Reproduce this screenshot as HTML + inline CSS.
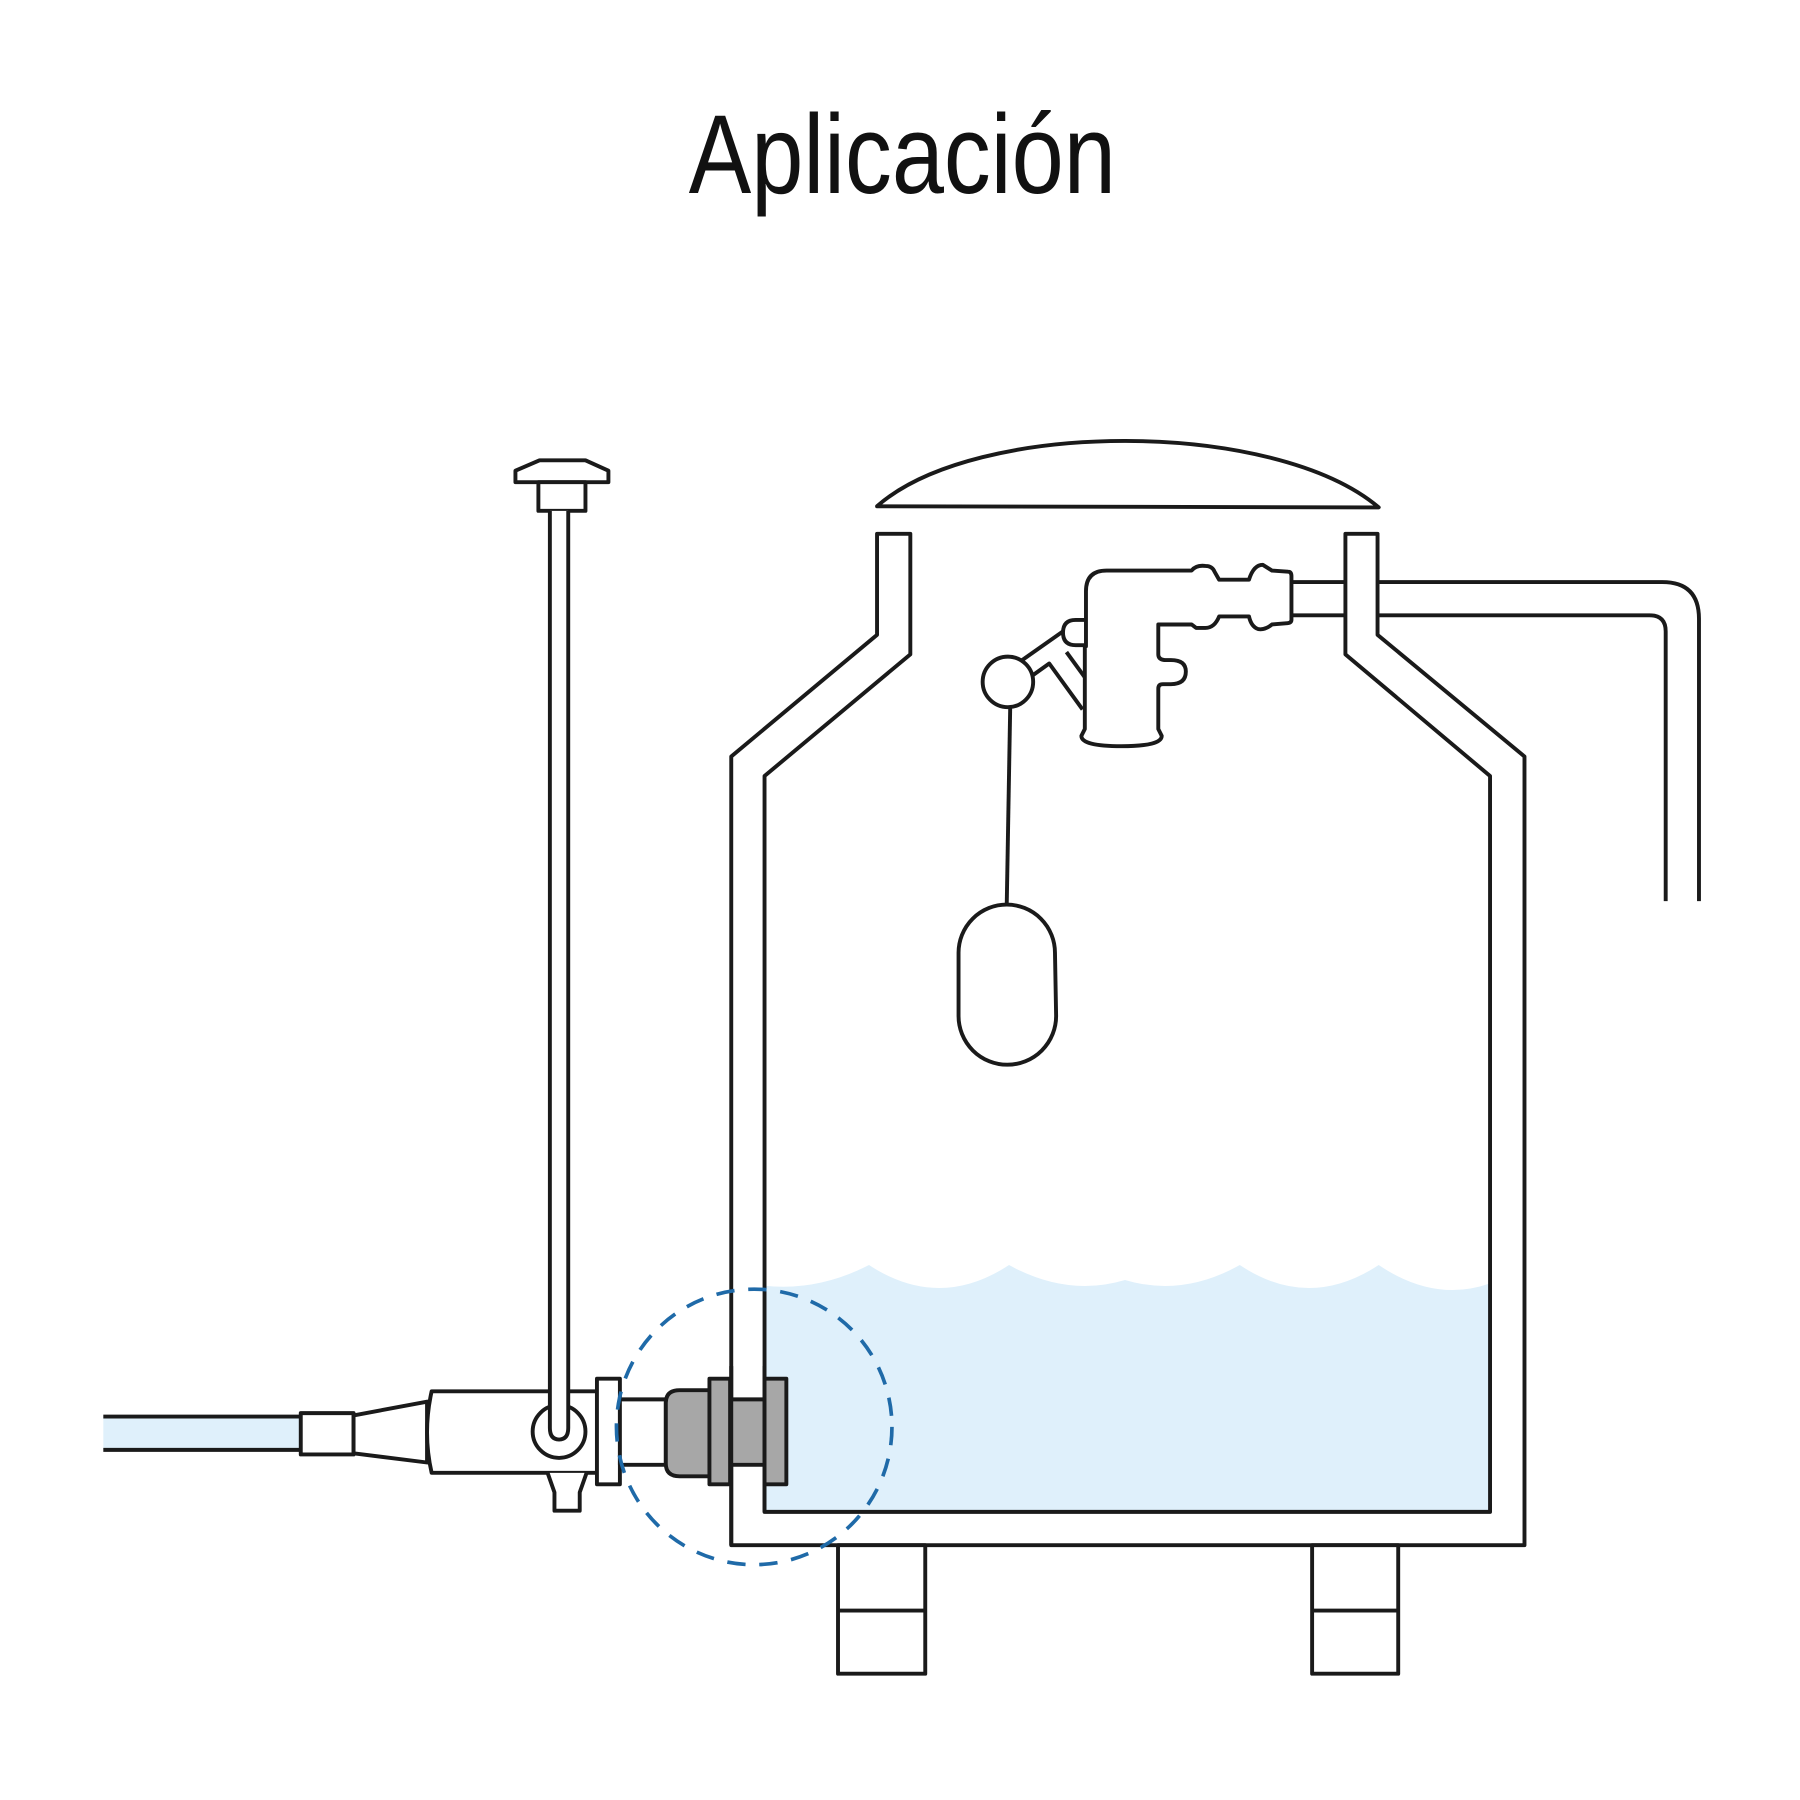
<!DOCTYPE html>
<html><head><meta charset="utf-8"><style>html,body{margin:0;padding:0;background:#fff}svg{display:block}</style></head>
<body>
<svg width="1800" height="1800" viewBox="0 0 1568 1568" xmlns="http://www.w3.org/2000/svg">
<rect width="1568" height="1568" fill="#fff"/>
<text x="786" y="168" text-anchor="middle" font-family="Liberation Sans Narrow, Liberation Sans, sans-serif" font-size="98" textLength="372" lengthAdjust="spacingAndGlyphs" fill="#111">Aplicación</text>
<g stroke="#1a1a1a" stroke-width="3.4" stroke-linejoin="round" fill="none">
<path d="M764,441 C850,365 1110,365 1201,442 Z" fill="#fff"/>
<path d="M666,1120 Q712,1125 757,1102 Q818,1142 879,1102 Q930,1130 980,1115 Q1030,1130 1080,1102 Q1140,1142 1201,1102 Q1250,1135 1298,1118 V1317 H666 Z" fill="#dff0fb" stroke="none"/>
<path d="M1126,507 H1448 Q1480,507 1480,539 V785"/>
<path d="M1126,536 H1437 Q1451,536 1451,550 V785"/>
<path d="M764,465 V553 L637,659 V1346 H1328 V659 L1200,553 V465 H1172 V570 L1298,676 V1317 H666 V676 L793,570 V465 Z" fill="#fff"/>
<rect x="730" y="1346" width="76" height="112" fill="#fff"/>
<line x1="730" y1="1403" x2="806" y2="1403"/>
<rect x="1143" y="1346" width="75" height="112" fill="#fff"/>
<line x1="1143" y1="1403" x2="1218" y2="1403"/>
<path d="M946,563 V515 Q946,497 964,497 H1038 Q1042,492 1050,493 Q1056,493 1058,498 L1062,505 H1088 Q1092,492 1100,492 L1108,497 L1122,498 Q1125,498 1125,502 V540 Q1125,543 1120,543 L1108,544 Q1102,549 1096,548 Q1090,546 1088,537 H1062 Q1058,547 1050,547 H1042 L1038,544 H1009 V570 Q1009,575 1016,575 H1020 Q1033,575 1033,585 Q1033,596 1020,596 H1013 Q1009,596 1009,600 V635 L1012,641 Q1012,650 977,650 Q942,650 942,641 L945,635 V563 Z" fill="#fff"/>
<path d="M946,540 H937 Q926,540 926,551 Q926,562 937,562 H946"/>
<path d="M926,550 L889,576"/>
<path d="M900,588 L914,578 L943,618"/>
<path d="M929,568 L945,590"/>
<circle cx="878" cy="594" r="22" fill="#fff"/>
<line x1="880" y1="616" x2="877" y2="787"/>
<path d="M835,830 A42,42 0 0 1 919,830 L920,885 A42.5,42.5 0 0 1 835,885 Z" fill="#fff"/>
<rect x="90" y="1234" width="172" height="29" fill="#dff0fb" stroke="none"/>
<line x1="90" y1="1234" x2="262" y2="1234"/>
<line x1="90" y1="1263" x2="262" y2="1263"/>
<rect x="262" y="1231" width="46" height="36" fill="#fff"/>
<path d="M308,1233 L372,1221 V1274 L308,1266 Z" fill="#fff"/>
<path d="M376,1212 H520 V1283 H376 Q368,1248 376,1212 Z" fill="#fff"/>
<path d="M477,1283 L483,1300 V1316 H505 V1300 L511,1283" fill="#fff"/>
<circle cx="487" cy="1247" r="23" fill="#fff"/>
<path d="M449,410 L470,401 H510 L530,410 V420 H449 Z" fill="#fff"/>
<rect x="469" y="420" width="41" height="25" fill="#fff"/>
<path d="M479,445 V1244 Q479,1254 487,1254 Q495,1254 495,1244 V445" fill="#fff"/>
<rect x="520" y="1201" width="20" height="92" fill="#fff"/>
<rect x="540" y="1219" width="40" height="57" fill="#fff"/>
<path d="M580,1222 Q580,1211 592,1211 H618 V1286 H592 Q580,1286 580,1275 Z" fill="#a7a7a7"/>
<rect x="636" y="1219" width="30" height="57" fill="#a7a7a7"/>
<rect x="618" y="1201" width="18" height="92" fill="#a7a7a7"/>
<rect x="666" y="1201" width="19" height="92" fill="#a7a7a7"/>
<line x1="637" y1="1190" x2="637" y2="1346"/>
<line x1="666" y1="1190" x2="666" y2="1201"/>
<line x1="666" y1="1293" x2="666" y2="1317"/>
</g>
<circle cx="657" cy="1243" r="120" fill="none" stroke="#1f6aa8" stroke-width="3.2" stroke-dasharray="16 12"/>
</svg>
</body></html>
